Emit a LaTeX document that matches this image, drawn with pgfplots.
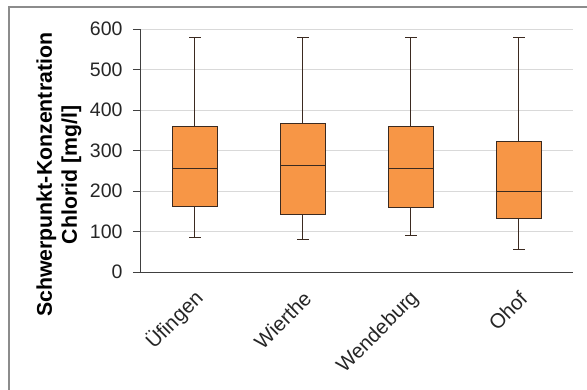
\documentclass[border=0pt]{standalone}
\usepackage{pgfplots}
\pgfplotsset{compat=1.18}
\usepgfplotslibrary{statistics}
\usepackage{fontspec}
\setmainfont{Liberation Sans}
\definecolor{boxfill}{HTML}{F79646}
\definecolor{boxdraw}{HTML}{3B2A20}
\definecolor{gridc}{HTML}{D9D9D9}
\definecolor{framec}{HTML}{8C8C8C}
\definecolor{axc}{HTML}{404040}
\begin{document}
\begin{tikzpicture}
\useasboundingbox (-141pt,-117pt) rectangle (446pt,272pt);
\draw[framec,line width=1.6pt] (-132pt,-125pt) -- (-132pt,265pt) -- (460pt,265pt);
\begin{axis}[
  at={(0pt,0pt)}, anchor=south west,
  scale only axis, width=432pt, height=243pt,
  xmin=-0.5, xmax=3.5, ymin=0, ymax=600,
  ytick={0,100,...,600},
  xtick={0,1,2,3},
  xticklabels={Üfingen,Wierthe,Wendeburg,Ohof},
  axis x line=bottom, axis y line=left,
  axis line style={-, axc, line width=1pt},
  ymajorgrids, grid style={gridc, line width=0.9pt},
  tick align=outside,
  major tick length=8pt,
  ytick style={axc, line width=0.9pt},
  xtick style={draw=none},
  /pgf/number format/assume math mode=true,
  yticklabel style={font=\fontsize{19.5}{22}\selectfont, text=black!85, xshift=-7pt},
  xticklabel style={font=\fontsize{20.5}{24}\selectfont, text=black!85, rotate=45, anchor=east, yshift=-14pt, xshift=-4pt},
  ylabel={Schwerpunkt-Konzentration\\Chlorid [mg/l]},
  ylabel style={at={(axis description cs:-0.19,0.40)}, anchor=center, font=\bfseries\fontsize{21.3}{25}\selectfont, align=center},
  boxplot/draw direction=y,
]
\addplot+[boxplot prepared={lower whisker=85, lower quartile=161, median=256, upper quartile=360, upper whisker=580, draw position=0, box extend=0.41, whisker extend=0.11}, fill=boxfill, draw=boxdraw, line width=1pt, solid, mark=none] coordinates {};
\addplot+[boxplot prepared={lower whisker=81, lower quartile=142, median=262, upper quartile=366, upper whisker=580, draw position=1, box extend=0.41, whisker extend=0.11}, fill=boxfill, draw=boxdraw, line width=1pt, solid, mark=none] coordinates {};
\addplot+[boxplot prepared={lower whisker=91, lower quartile=159, median=256, upper quartile=360, upper whisker=580, draw position=2, box extend=0.41, whisker extend=0.11}, fill=boxfill, draw=boxdraw, line width=1pt, solid, mark=none] coordinates {};
\addplot+[boxplot prepared={lower whisker=56, lower quartile=133, median=198, upper quartile=321, upper whisker=580, draw position=3, box extend=0.41, whisker extend=0.11}, fill=boxfill, draw=boxdraw, line width=1pt, solid, mark=none] coordinates {};
\end{axis}
\end{tikzpicture}
\end{document}
